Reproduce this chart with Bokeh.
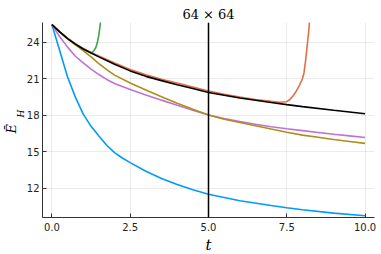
from bokeh.plotting import figure
from bokeh.models import Span, FixedTicker, Range1d, Title
from bokeh.embed import file_html
from bokeh.resources import INLINE

# ---- data ----
title_text = "64 × 64"
x_label = "t"
y_label = "Ē"
y_label_sub = "H"
x_ticks = [0.0, 2.5, 5.0, 7.5, 10.0]
y_ticks = [12, 15, 18, 21, 24]
marker_t = 5.0

blue_t = [0, 0.25, 0.5, 0.75, 1, 1.25, 1.5, 1.75, 2, 2.25, 2.5, 3, 3.5, 4, 4.5, 5, 6, 7, 7.5, 8, 9, 10]
blue_E = [25.45, 23.3, 21.15, 19.5, 18.1, 17.1, 16.3, 15.55, 14.95, 14.5, 14.12, 13.42, 12.82,
          12.32, 11.9, 11.53, 11.0, 10.6, 10.42, 10.25, 9.98, 9.76]

red_t = [0, 0.25, 0.5, 0.75, 1, 1.25, 1.5, 2, 2.5, 3, 3.5, 4, 4.5, 5, 5.5, 6, 6.5, 7,
         7.25, 7.5, 7.6, 7.7, 7.8, 7.9, 8.0, 8.05, 8.1, 8.15, 8.2, 8.25]
red_E = [25.45, 24.87, 24.33, 23.88, 23.5, 23.17, 22.87, 22.3, 21.77, 21.33, 20.97, 20.65,
         20.33, 20.0, 19.74, 19.5, 19.3, 19.15, 19.08, 19.12, 19.3, 19.6, 19.98, 20.45,
         21.0, 21.5, 22.5, 23.7, 24.9, 26.5]

green_t = [0, 0.25, 0.5, 0.75, 1, 1.25, 1.3, 1.35, 1.4, 1.45, 1.5, 1.55, 1.6]
green_E = [25.45, 24.85, 24.3, 23.85, 23.45, 23.13, 23.2, 23.35, 23.55, 23.95, 24.6, 25.6, 26.8]

purple_t = [0, 0.25, 0.5, 0.75, 1, 1.25, 1.5, 1.75, 2, 2.5, 3, 3.5, 4, 4.5, 5, 5.5, 6,
            6.5, 7, 7.5, 8, 8.5, 9, 9.5, 10]
purple_E = [25.45, 24.45, 23.6, 22.85, 22.3, 21.8, 21.35, 20.95, 20.62, 20.12, 19.68, 19.25,
            18.83, 18.42, 18.03, 17.75, 17.5, 17.27, 17.07, 16.9, 16.75, 16.6, 16.45, 16.32, 16.18]

gold_t = [0, 0.25, 0.5, 0.75, 1, 1.25, 1.5, 1.75, 2, 2.5, 3, 3.5, 4, 4.5, 5, 5.5, 6, 6.5,
          7, 7.5, 8, 8.5, 9, 9.5, 10]
gold_E = [25.45, 24.82, 24.28, 23.78, 23.32, 22.8, 22.25, 21.75, 21.3, 20.65, 20.08, 19.53,
          19.0, 18.5, 18.03, 17.68, 17.42, 17.15, 16.88, 16.62, 16.38, 16.2, 16.02, 15.86, 15.7]

black_t = [0, 0.25, 0.5, 0.75, 1, 1.25, 1.5, 2, 2.5, 3, 3.5, 4, 4.5, 5, 6, 7, 7.5, 8, 9, 10]
black_E = [25.45, 24.85, 24.3, 23.85, 23.45, 23.12, 22.8, 22.2, 21.65, 21.2, 20.85, 20.52,
           20.2, 19.88, 19.42, 19.05, 18.88, 18.72, 18.42, 18.13]

x_range = (-0.3, 10.3)
y_range = (9.62, 25.62)

series = [
    (blue_t, blue_E, "#009AF9"),
    (red_t, red_E, "#E26F46"),
    (green_t, green_E, "#3DA44D"),
    (purple_t, purple_E, "#C271D2"),
    (gold_t, gold_E, "#AC8E18"),
    (black_t, black_E, "#000000"),
]

p = figure(width=381, height=254, output_backend="svg", toolbar_location=None,
           x_range=Range1d(*x_range), y_range=Range1d(*y_range),
           min_border_left=42, min_border_right=7, min_border_top=22, min_border_bottom=37)
p.outline_line_color = None
p.background_fill_color = "white"
p.border_fill_color = "white"

p.title.text = title_text
p.title.align = "center"
p.title.text_font = "DejaVu Serif"
p.title.text_font_size = "13px"
p.title.text_font_style = "normal"
p.title.text_color = "#000000"
p.title.standoff = 2

for ax in (p.xaxis[0], p.yaxis[0]):
    ax.axis_line_color = "#333333"
    ax.axis_line_width = 1
    ax.major_tick_in = 4
    ax.major_tick_out = 0
    ax.minor_tick_line_color = None
    ax.major_tick_line_color = "#333333"
    ax.major_label_text_font = "DejaVu Sans"
    ax.major_label_text_font_size = "10px"
    ax.major_label_text_color = "#222222"

p.xaxis.ticker = FixedTicker(ticks=x_ticks)
p.xaxis.major_label_overrides = {v: f"{v:.1f}" for v in x_ticks}
p.yaxis.ticker = FixedTicker(ticks=y_ticks)
p.xaxis.major_label_standoff = 5
p.yaxis.major_label_standoff = 3

# x-axis label as a title below the axis
x_title = Title(text=x_label, align="center", standoff=0, text_font="DejaVu Serif",
                text_font_style="italic", text_font_size="15px", text_color="#000000")
p.add_layout(x_title, "below")

# y-axis label: E-bar with subscript H, as two rotated titles on the left
sub_title = Title(text=y_label_sub, align="left", offset=100, standoff=-4,
                  text_font="DejaVu Serif", text_font_style="italic",
                  text_font_size="9px", text_color="#000000")
main_title = Title(text=y_label, align="left", offset=84, standoff=-6,
                   text_font="DejaVu Serif", text_font_style="italic",
                   text_font_size="13px", text_color="#000000")
p.add_layout(sub_title, "left")
p.add_layout(main_title, "left")

p.xgrid.grid_line_color = "#000000"
p.xgrid.grid_line_alpha = 0.08
p.ygrid.grid_line_color = "#000000"
p.ygrid.grid_line_alpha = 0.08

for t, e, c in series:
    p.line(t, e, line_color=c, line_width=1.6)

p.add_layout(Span(location=marker_t, dimension="height", line_color="#000000", line_width=1.5))

open("out.html", "w").write(file_html(p, INLINE))
